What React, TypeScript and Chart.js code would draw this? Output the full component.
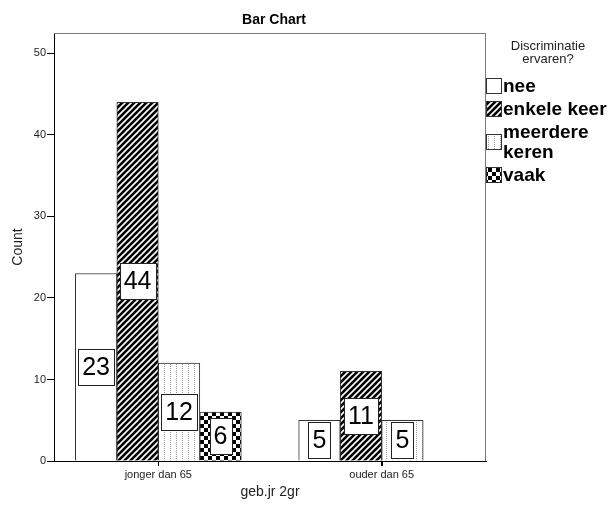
import { useEffect, useRef } from 'react';
import { Chart, registerables } from 'chart.js';

Chart.register(...registerables);

// Counts per age group for each answer to "Discriminatie ervaren?"
const categories = ['jonger dan 65', 'ouder dan 65'];
const seriesNames = ['nee', 'enkele keer', 'meerdere keren', 'vaak'];
const nee = [23, 5];
const enkeleKeer = [44, 11];
const meerdereKeren = [12, 5];
const vaak = [6, 0];
const yTickValues = [0, 10, 20, 30, 40, 50];

const seriesValues = [nee, enkeleKeer, meerdereKeren, vaak];

const FONT = 'Arial, "Liberation Sans", sans-serif';

function makeTile(w: number, h: number, paint: (g: CanvasRenderingContext2D) => void) {
  const c = document.createElement('canvas');
  c.width = w;
  c.height = h;
  const g = c.getContext('2d')!;
  paint(g);
  return c;
}

function buildFills(ctx: CanvasRenderingContext2D): (string | CanvasPattern)[] {
  const hatch = makeTile(6, 6, (g) => {
    g.fillStyle = '#000';
    g.fillRect(0, 0, 6, 6);
    g.strokeStyle = '#fff';
    g.lineWidth = 1.6;
    g.beginPath();
    g.moveTo(-1, 7);
    g.lineTo(7, -1);
    g.moveTo(-4, 4);
    g.lineTo(4, -4);
    g.moveTo(2, 10);
    g.lineTo(10, 2);
    g.stroke();
  });
  const dots = makeTile(6, 2, (g) => {
    g.fillStyle = '#fff';
    g.fillRect(0, 0, 6, 2);
    g.fillStyle = '#9a9a9a';
    g.fillRect(2, 0, 1, 1);
  });
  const checker = makeTile(8, 8, (g) => {
    g.fillStyle = '#fff';
    g.fillRect(0, 0, 8, 8);
    g.fillStyle = '#000';
    g.fillRect(0, 0, 4, 4);
    g.fillRect(4, 4, 4, 4);
  });
  return [
    '#ffffff',
    ctx.createPattern(hatch, 'repeat')!,
    ctx.createPattern(dots, 'repeat')!,
    ctx.createPattern(checker, 'repeat')!,
  ];
}

function wrapWords(g: CanvasRenderingContext2D, text: string, maxW: number): string[] {
  const words = text.split(' ');
  const lines: string[] = [];
  let cur = '';
  for (const w of words) {
    const next = cur ? cur + ' ' + w : w;
    if (cur && g.measureText(next).width > maxW) {
      lines.push(cur);
      cur = w;
    } else {
      cur = next;
    }
  }
  if (cur) lines.push(cur);
  return lines;
}

export default function App() {
  const ref = useRef<HTMLCanvasElement | null>(null);

  useEffect(() => {
    const canvas = ref.current!;
    const ctx = canvas.getContext('2d')!;
    const fills = buildFills(ctx);

    const decor = {
      id: 'decor',
      beforeDatasetsDraw(chart: any) {
        const { ctx: g, chartArea: a } = chart;
        g.save();
        g.strokeStyle = '#7a7a7a';
        g.lineWidth = 1;
        g.beginPath();
        g.moveTo(a.left, a.top + 0.5);
        g.lineTo(a.right - 0.5, a.top + 0.5);
        g.lineTo(a.right - 0.5, a.bottom);
        g.stroke();
        // category tick marks below the x axis
        const xs = chart.scales.x;
        g.strokeStyle = '#000';
        g.beginPath();
        categories.forEach((_, j) => {
          const px = Math.round(xs.getPixelForValue(j)) + 0.5;
          g.moveTo(px, a.bottom);
          g.lineTo(px, a.bottom + 5);
        });
        g.stroke();
        g.restore();
      },
      afterDatasetsDraw(chart: any) {
        const g: CanvasRenderingContext2D = chart.ctx;
        g.save();
        g.font = `25px ${FONT}`;
        g.textAlign = 'center';
        g.textBaseline = 'middle';
        chart.data.datasets.forEach((ds: any, i: number) => {
          const meta = chart.getDatasetMeta(i);
          meta.data.forEach((bar: any, j: number) => {
            const v = ds.data[j].y;
            if (!v) return;
            const text = String(v);
            const cx = bar.x;
            const cy = (bar.y + bar.base) / 2;
            const w = g.measureText(text).width + 8;
            const h = 36;
            const x0 = Math.round(cx - w / 2) + 0.5;
            const y0 = Math.round(cy - h / 2) + 0.5;
            g.fillStyle = '#fff';
            g.fillRect(x0, y0, Math.round(w), h);
            g.strokeStyle = '#222';
            g.lineWidth = 1;
            g.strokeRect(x0, y0, Math.round(w), h);
            g.fillStyle = '#000';
            g.fillText(text, cx, cy + 1);
          });
        });
        g.restore();
      },
      afterDraw(chart: any) {
        const g: CanvasRenderingContext2D = chart.ctx;
        g.save();
        // chart title
        g.fillStyle = '#000';
        g.font = `bold 14px ${FONT}`;
        g.textAlign = 'center';
        g.textBaseline = 'middle';
        g.fillText('Bar Chart', 274, 20);

        // legend
        g.font = `13px ${FONT}`;
        g.fillStyle = '#222';
        g.fillText('Discriminatie', 548, 46);
        g.fillText('ervaren?', 548, 59);

        const sx = 486;
        const tx = 503;
        const lineH = 20;
        let y = 76;
        g.font = `bold 19px ${FONT}`;
        g.textAlign = 'left';
        seriesNames.forEach((name, i) => {
          const lines = wrapWords(g, name, 613 - tx);
          const blockH = lines.length * lineH;
          const swY = y + blockH / 2 - 8;
          g.fillStyle = fills[i] as any;
          g.fillRect(sx, Math.round(swY), 16, 16);
          g.strokeStyle = '#333';
          g.lineWidth = 1;
          g.strokeRect(sx + 0.5, Math.round(swY) + 0.5, 15, 15);
          g.fillStyle = '#000';
          lines.forEach((ln, k) => {
            g.fillText(ln, tx, y + lineH * k + lineH / 2 + 1);
          });
          y += blockH + 3;
        });
        g.restore();
      },
    };

    const chart = new Chart(canvas, {
      type: 'bar',
      data: {
        datasets: seriesNames.map((name, i) => ({
          label: name,
          data: categories.map((_, j) => ({ x: j, y: seriesValues[i][j] })),
          backgroundColor: fills[i] as any,
          borderColor: '#333',
          borderWidth: 1,
          barThickness: 41.5,
        })),
      },
      options: {
        responsive: false,
        devicePixelRatio: 1,
        animation: false,
        layout: { padding: { top: 33, right: 127, left: 0, bottom: 0 } },
        plugins: {
          legend: { display: false },
          title: { display: false },
          tooltip: { enabled: false },
        },
        scales: {
          x: {
            type: 'linear',
            min: -0.467,
            max: 1.467,
            offset: false,
            afterFit: (s: any) => {
              s.height = 47;
            },
            afterBuildTicks: (s: any) => {
              s.ticks = categories.map((_, j) => ({ value: j }));
            },
            grid: {
              display: true,
              offset: false,
              drawOnChartArea: false,
              drawTicks: true,
              tickLength: 5,
              color: '#000',
            },
            border: { display: true, color: '#000', width: 1 },
            ticks: {
              color: '#222',
              font: { family: FONT, size: 11 },
              padding: 2,
              maxRotation: 0,
              autoSkip: false,
              callback: (v: any) => categories[v] ?? '',
            },
            title: {
              display: true,
              text: 'geb.jr 2gr',
              color: '#222',
              font: { family: FONT, size: 14 },
              padding: { top: 0, bottom: 7 },
            },
          },
          y: {
            type: 'linear',
            min: 0,
            max: 52.5,
            afterFit: (s: any) => {
              s.width = 54;
            },
            afterBuildTicks: (s: any) => {
              s.ticks = yTickValues.map((v) => ({ value: v }));
            },
            grid: {
              display: true,
              drawOnChartArea: false,
              drawTicks: true,
              tickLength: 7,
              color: '#000',
            },
            border: { display: true, color: '#000', width: 1 },
            ticks: {
              color: '#222',
              font: { family: FONT, size: 11 },
              padding: 1,
            },
            title: {
              display: true,
              text: 'Count',
              color: '#222',
              font: { family: FONT, size: 14 },
              padding: { top: 10, bottom: 0 },
            },
          },
        },
      },
      plugins: [decor],
    });

    return () => chart.destroy();
  }, []);

  return (
    <div style={{ position: 'fixed', left: 0, top: 0, width: 613, height: 508, background: '#fff' }}>
      <canvas ref={ref} width={613} height={508} style={{ display: 'block' }} />
    </div>
  );
}
